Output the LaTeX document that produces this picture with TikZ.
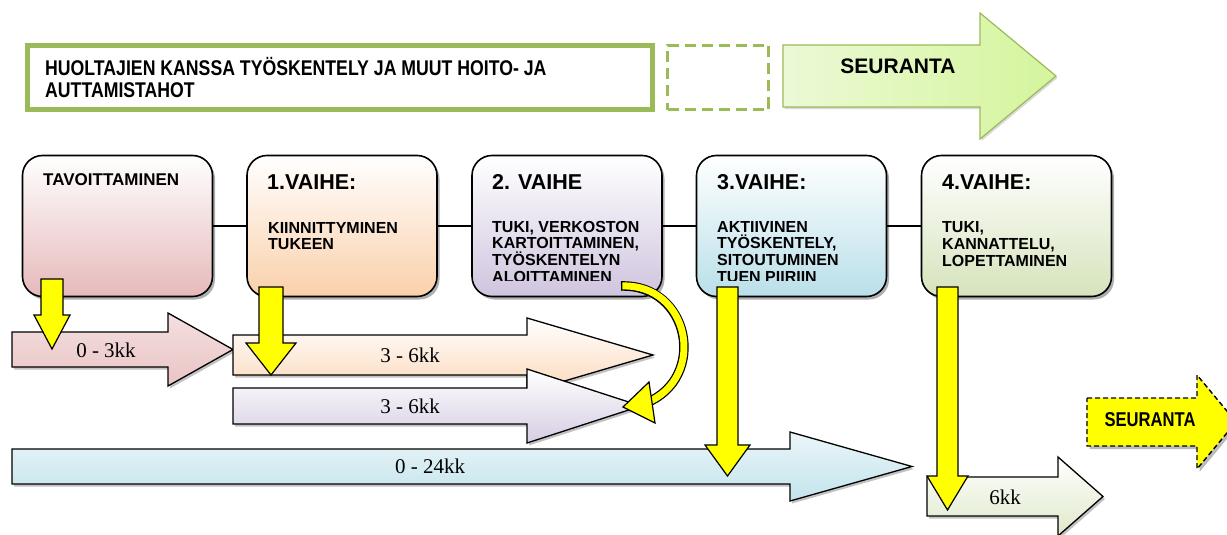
\documentclass[tikz,border=0pt]{standalone}
\usepackage{fontspec}
\setmainfont{Liberation Sans}
\newfontfamily\narrowfont[FakeStretch=0.83]{Liberation Sans}
\newfontfamily\numfont{Liberation Serif}
\usetikzlibrary{shadows}
\definecolor{grn}{HTML}{9BBB59}
\definecolor{arrowlgt}{HTML}{ECF9D6}
\definecolor{arrowdrk}{HTML}{D4F59C}
\definecolor{pinkb}{HTML}{E6B9BA}
\definecolor{peachb}{HTML}{FAD0AA}
\definecolor{lavb}{HTML}{CFC4DE}
\definecolor{blueb}{HTML}{B9DFE9}
\definecolor{oliveb}{HTML}{D6E3BC}
\definecolor{ylw}{HTML}{FFFF00}
\newcommand\firstline{\rule{0pt}{1em}}
\begin{document}
\begin{tikzpicture}[x=1pt,y=-1pt,
  phase/.style={draw=black, line width=1.6pt, rounded corners=20pt,
    minimum width=190pt, minimum height=141pt, inner sep=0pt, top color=white,
    drop shadow={shadow xshift=2.5pt, shadow yshift=-3pt, fill=black!45, opacity=0.7}},
  conn/.style={draw=black, line width=1.2pt},
  blockarr/.style={draw=black, line width=1.3pt, line join=miter,
    drop shadow={shadow xshift=2pt, shadow yshift=-2.5pt, fill=black!40, opacity=0.6}},
  yarr/.style={draw=black, fill=ylw, line width=1.2pt, line join=miter},
  ttl/.style={anchor=base west, inner sep=0pt, font=\bfseries\fontsize{21.5}{24}\selectfont},
  sub/.style={anchor=north west, inner sep=0pt, align=left, font=\bfseries\fontsize{16}{16.7}\selectfont},
  num/.style={inner sep=0pt, font=\numfont\fontsize{21}{23}\selectfont}
]
\useasboundingbox (0,0) rectangle (1227,535);

% ---------- top row ----------
\node[draw=grn, line width=4.5pt, minimum width=625pt, minimum height=64pt, inner sep=0pt] (topbox) at (340,77.5) {};
\node[anchor=north west, inner sep=0pt, align=left, font=\narrowfont\bfseries\fontsize{21.3}{22}\selectfont] (toptext) at (45,54)
  {\firstline HUOLTAJIEN KANSSA TYÖSKENTELY JA MUUT HOITO- JA\\AUTTAMISTAHOT};
\node[draw=grn, line width=3.5pt, dash pattern=on 11pt off 6pt, minimum width=101pt, minimum height=64pt, inner sep=0pt] (dashbox) at (718,77.5) {};
\draw[draw=grn, line width=1.2pt, left color=arrowlgt, right color=arrowdrk,
  drop shadow={shadow xshift=1.5pt, shadow yshift=-2pt, fill=black!30, opacity=0.5}]
  (783,45) -- (980,45) -- (980,13) -- (1056,76) -- (980,139) -- (980,107) -- (783,107) -- cycle;
\node[anchor=base, inner sep=0pt, font=\bfseries\fontsize{21}{24}\selectfont] (seur1) at (898,74) {SEURANTA};

% ---------- phase boxes ----------
\node[phase, bottom color=pinkb] (b0) at (117.5,226) {};
\node[phase, bottom color=peachb] (b1) at (342,226) {};
\node[phase, bottom color=lavb] (b2) at (567,226) {};
\node[phase, bottom color=blueb] (b3) at (791.5,226) {};
\node[phase, bottom color=oliveb] (b4) at (1016.5,226) {};
\draw[conn] (b0) -- (b1);
\draw[conn] (b1) -- (b2);
\draw[conn] (b2) -- (b3);
\draw[conn] (b3) -- (b4);

\node[anchor=base west, inner sep=0pt, font=\bfseries\fontsize{17}{20}\selectfont] (t0) at (43,185) {TAVOITTAMINEN};
\node[ttl] (t1) at (267,189) {1.VAIHE:};
\node[sub] (s1) at (268,217) {\firstline KIINNITTYMINEN\\TUKEEN};
\node[ttl] (t2) at (492,189) {2. VAIHE};
\begin{scope}
  \clip (480,200) rectangle (660,280.5);
  \node[sub] (s2) at (492,216) {\firstline TUKI, VERKOSTON\\KARTOITTAMINEN,\\TYÖSKENTELYN\\ALOITTAMINEN};
\end{scope}
\node[ttl] (t3) at (717,189) {3.VAIHE:};
\begin{scope}
  \clip (705,200) rectangle (885,280.5);
  \node[sub] (s3) at (717,216) {\firstline AKTIIVINEN\\TYÖSKENTELY,\\SITOUTUMINEN\\TUEN PIIRIIN};
\end{scope}
\node[ttl] (t4) at (942,189) {4.VAIHE:};
\node[sub] (s4) at (942,216.5) {\firstline TUKI,\\KANNATTELU,\\LOPETTAMINEN};

% ---------- duration arrows ----------
\draw[blockarr, top color=white!55!pinkb, bottom color=pinkb!85]
  (12,332) -- (168,332) -- (168,313) -- (233,349.5) -- (168,386) -- (168,367) -- (12,367) -- cycle;
\node[num] (a0) at (106,350) {0 - 3kk};
\draw[blockarr, top color=white, bottom color=oliveb!80]
  (927,477) -- (1058,477) -- (1058,457) -- (1103,496.5) -- (1058,536) -- (1058,516) -- (927,516) -- cycle;
\node[num] (a4) at (1005,497) {6kk};
\draw[blockarr, top color=white!70!blueb, bottom color=blueb!85]
  (12,449) -- (790,449) -- (790,432) -- (912,466.5) -- (790,501) -- (790,484) -- (12,484) -- cycle;
\node[num] (a3) at (430,466.5) {0 - 24kk};
\draw[blockarr, top color=white, bottom color=peachb!80]
  (233,335) -- (527,335) -- (527,318) -- (653,355) -- (527,392) -- (527,375) -- (233,375) -- cycle;
\node[num] (a1) at (410,355) {3 - 6kk};
\draw[blockarr, top color=white, bottom color=lavb!85]
  (233,388) -- (527,388) -- (527,369) -- (641,406) -- (527,443) -- (527,424) -- (233,424) -- cycle;
\node[num] (a2) at (410,406) {3 - 6kk};

% follow-up arrow (dashed, yellow)
\draw[draw=black, dash pattern=on 5pt off 3pt, line width=1.4pt, fill=ylw,
  drop shadow={shadow xshift=2.5pt, shadow yshift=-3pt, fill=black!45, opacity=0.6}]
  (1087,398) -- (1197,398) -- (1197,375) -- (1236,422) -- (1197,469) -- (1197,446) -- (1087,446) -- cycle;
\node[inner sep=0pt, font=\narrowfont\bfseries\fontsize{20}{22}\selectfont] (seur2) at (1150,420) {SEURANTA};

% ---------- yellow down arrows ----------
\draw[yarr] (41,279) -- (63,279) -- (63,315) -- (70,315) -- (52,349) -- (34,315) -- (41,315) -- cycle;
\draw[yarr] (259,287) -- (283,287) -- (283,343) -- (296,343) -- (271,375) -- (246,343) -- (259,343) -- cycle;
\draw[yarr] (717,287) -- (738,287) -- (738,445) -- (750,445) -- (727.5,476) -- (705,445) -- (717,445) -- cycle;
\draw[yarr] (937,287) -- (958,287) -- (958,476) -- (968,476) -- (947.5,510) -- (927,476) -- (937,476) -- cycle;

% curved arrow
\draw[line width=9.5pt, black] (621,286) .. controls (690,284) and (708,378) .. (646,403);
\draw[line width=7pt, ylw, shorten <=1.3pt] (621,286) .. controls (690,284) and (708,378) .. (646,403);
\draw[yarr] (623,407) -- (649,382) -- (655,423) -- cycle;
\end{tikzpicture}
\end{document}
